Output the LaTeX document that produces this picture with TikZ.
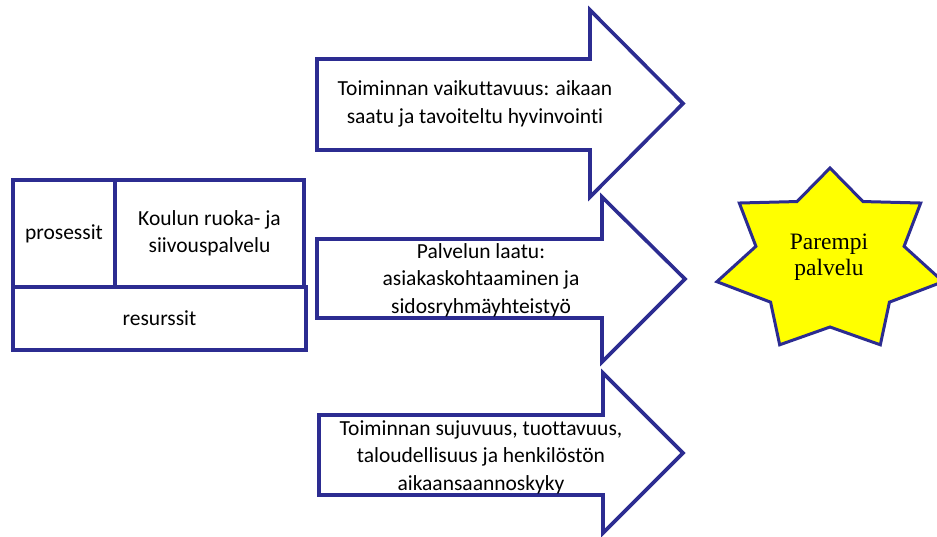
\documentclass[tikz,border=0pt]{standalone}
\usepackage{fontspec}
\setmainfont[Ligatures=NoCommon]{Carlito}
\newfontfamily\starfont{Liberation Serif}
\definecolor{edgeblue}{RGB}{44,44,145}
\definecolor{staryellow}{RGB}{255,255,0}
\begin{document}
\begin{tikzpicture}[x=1pt,y=-1pt,
  box/.style={draw=edgeblue,line width=4pt,fill=white,inner sep=0pt,align=center,
              font=\fontsize{21.5}{27.5}\selectfont},
  bigarrow/.style={draw=edgeblue,line width=3.6pt,fill=white,line join=miter},
  txt/.style={align=center,inner sep=0pt,font=\fontsize{21.5}{27.5}\selectfont},
  starshape/.style={draw=edgeblue,line width=3pt,fill=staryellow,line join=miter},
  startxt/.style={align=center,inner sep=0pt,font=\starfont\fontsize{23.5}{26}\selectfont}]
\useasboundingbox (0,0) rectangle (937,536);

% left block: processes, service, resources
\node[box,minimum width=102pt,minimum height=107pt] (pros) at (64,233.5) {prosessit};
\node[box,minimum width=189pt,minimum height=107pt] (serv) at (209.5,233.5) {Koulun ruoka- ja\\siivouspalvelu};
\node[box,minimum width=293pt,minimum height=63pt] (res) at (159.5,318.5) {resurssit};

% three block arrows
\draw[bigarrow] (317,59) -- (590,59) -- (590,10) -- (683,103.5) -- (590,197)
  -- (590,150) -- (317,150) -- cycle;
\node[txt] (a1) at (475,104) {Toiminnan vaikuttavuus: aikaan\\saatu ja tavoiteltu hyvinvointi};

\draw[bigarrow] (317,239) -- (602,239) -- (602,197) -- (685,279) -- (602,362)
  -- (602,318) -- (317,318) -- cycle;
\node[txt] (a2) at (481,280) {Palvelun laatu:\\asiakaskohtaaminen ja\\sidosryhmäyhteistyö};

\draw[bigarrow] (319,415) -- (603,415) -- (603,373) -- (683,453) -- (603,533)
  -- (603,495) -- (319,495) -- cycle;
\node[txt] (a3) at (481,457) {Toiminnan sujuvuus, tuottavuus,\\taloudellisuus ja henkilöstön\\aikaansaannoskyky};

% seven-pointed star
\coordinate (sc) at (830,261);
\draw[starshape] (sc)
  +(-90:116 and 93) -- +({-90+180/7}:76 and 66)
  -- +({-90+2*180/7}:116 and 93) -- +({-90+3*180/7}:76 and 66)
  -- +({-90+4*180/7}:116 and 93) -- +({-90+5*180/7}:76 and 66)
  -- +({-90+6*180/7}:116 and 93) -- +({-90+7*180/7}:76 and 66)
  -- +({-90+8*180/7}:116 and 93) -- +({-90+9*180/7}:76 and 66)
  -- +({-90+10*180/7}:116 and 93) -- +({-90+11*180/7}:76 and 66)
  -- +({-90+12*180/7}:116 and 93) -- +({-90+13*180/7}:76 and 66) -- cycle;
\node[startxt] (goal) at (829,257) {Parempi\\palvelu};
\end{tikzpicture}
\end{document}
